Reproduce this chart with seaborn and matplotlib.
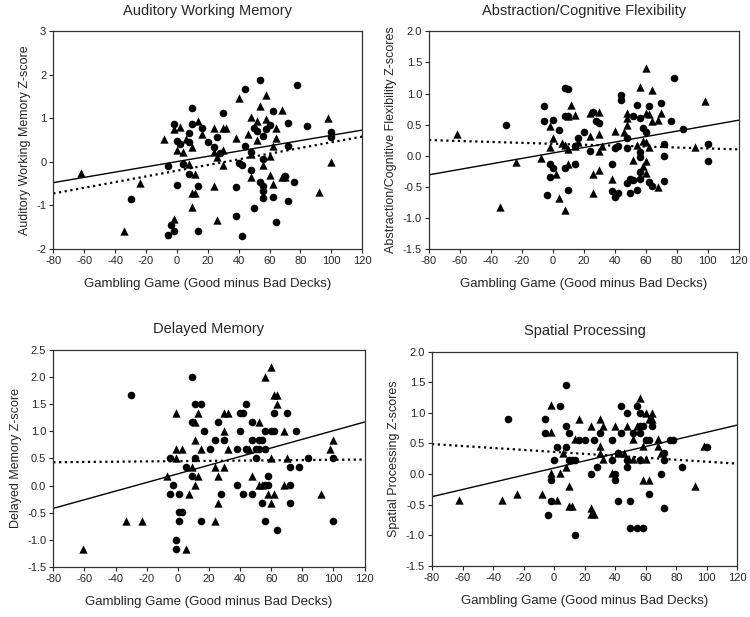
import numpy as np
import pandas as pd
import matplotlib
matplotlib.use("Agg")
import matplotlib.pyplot as plt
import seaborn as sns

# x range of the fitted lines
line_x = [-80, 120]

# Auditory Working Memory
awm_circ_x = [-30, -6, -6, -4, -2, -2, 0, 0, 2, 4, 8, 8, 8, 10, 10, 14, 14, 16, 20, 24, 26, 28, 30,
              38, 38, 40, 42, 42, 44, 44, 48, 48, 50, 50, 52, 54, 54, 56, 56, 56, 56, 56, 58, 60, 62,
              62, 64, 70, 72, 72, 72, 76, 78, 84, 100, 100]
awm_circ_y = [-0.85, -0.1, -1.68, -1.45, -1.6, 0.87, -0.53, 0.47, 0.4, -0.04, 0.67, 0.46, -0.29, 1.24,
              0.87, -0.55, -1.6, 0.78, 0.46, 0.35, 0.56, 0.2, 1.13, -0.58, -1.24, -0.03, -0.07, -1.72,
              1.68, 0.37, -0.2, 0.23, 0.78, -1.06, 0.7, 1.89, -0.47, 0.6, 0.07, -0.55, -0.68, -0.84,
              0.75, 0.84, 1.16, -0.8, -1.38, -0.33, 0.9, 0.36, -0.91, -0.46, 1.76, 0.83, 0.68, 0.57]
awm_tri_x = [-62, -34, -24, -8, -2, 2, 0, 4, 6, 8, 10, 10, 12, 12, 14, 16, 10, -2, 24, 24, 24, 26,
             26, 30, 30, 30, 32, 38, 40, 46, 48, 48, 48, 54, 52, 52, 56, 58, 58, 60, 60, 62, 62, 64,
             64, 68, 68, 70, 92, 98, 100]
awm_tri_y = [-0.25, -1.6, -0.48, 0.53, 0.76, 0.81, 0.28, 0.22, 0.53, -0.04, 0.35, -0.72, -0.72, -0.27,
             0.94, 0.63, -1.05, -1.31, 0.78, -0.55, 0.23, 0.11, -1.34, 0.78, 0.26, -0.08, 0.78, 0.55,
             1.46, 0.64, 1.04, 0.17, -0.35, 1.29, 0.95, 0.51, -0.08, 0.99, 1.54, 0.13, -0.3, 0.36,
             -0.51, 0.78, 0.55, 1.2, -0.36, -0.34, -0.7, 1.0, -0.01]
awm_solid = [-0.48, 0.73]
awm_dotted = [-0.73, 0.58]

# Abstraction/Cognitive Flexibility
acf_circ_x = [-30, -6, -6, -4, -2, -2, 0, 0, 4, 8, 10, 8, 10, 8, 10, 14, 14, 16, 20, 24, 26, 28, 30,
              38, 38, 40, 42, 40, 42, 44, 44, 48, 48, 48, 50, 50, 52, 52, 54, 54, 56, 56, 56, 56, 56,
              58, 60, 62, 62, 64, 70, 72, 72, 72, 76, 78, 84, 100, 100]
acf_circ_y = [0.49, 0.8, 0.55, -0.63, -0.14, -0.34, 0.58, -0.2, 0.41, 1.09, 1.08, 0.64, 0.63, -0.2,
              -0.55, -0.14, 0.15, 0.28, 0.38, 0.07, 0.71, 0.55, 0.53, -0.14, -0.57, -0.66, -0.6, 0.13,
              0.16, 0.98, 0.9, 0.28, 0.13, -0.44, -0.37, -0.61, 0.63, -0.39, 0.82, -0.55, 0.6, 0.05,
              -0.03, -0.27, -0.38, 0.45, 0.38, 0.8, -0.42, -0.49, 0.85, 0.19, -0.01, -0.41, 0.56, 1.25,
              0.43, 0.19, -0.09]
acf_tri_x = [-62, -34, -24, -8, -2, -2, 0, 2, 4, 6, 8, 8, 10, 10, 12, 14, 10, 14, 16, 24, 24, 26, 26,
             30, 30, 30, 30, 32, 40, 38, 46, 48, 48, 48, 52, 54, 56, 58, 58, 60, 60, 60, 60, 60, 62,
             62, 64, 64, 68, 68, 70, 92, 98]
acf_tri_y = [0.34, -0.83, -0.11, -0.04, 0.47, 0.14, 0.28, -0.29, -0.69, 0.2, -0.87, 0.17, 0.1, -0.13,
             0.81, 0.66, 0.63, 0.16, 0.22, 0.32, 0.68, -0.3, -0.6, 0.71, 0.35, 0.07, -0.24, 0.16, 0.39,
             -0.38, 0.38, 0.68, 0.61, 0.49, -0.07, 0.17, 1.1, 0.23, -0.17, 1.41, 0.69, 0.22, -0.09,
             -0.28, 0.67, 0.14, 0.55, 1.06, 0.58, -0.51, 0.69, 0.14, 0.88]
acf_solid = [-0.31, 0.57]
acf_dotted = [0.25, 0.10]

# Delayed Memory
dm_circ_x = [-30, -5, -5, -3, -1, -1, 1, 1, 1, 3, 5, 9, 9, 9, 11, 11, 15, 15, 17, 21, 24, 26, 28, 30,
             38, 38, 40, 42, 40, 42, 44, 44, 48, 48, 48, 50, 50, 52, 54, 52, 54, 56, 56, 56, 56, 58,
             58, 60, 62, 62, 64, 70, 72, 72, 72, 76, 78, 84, 100, 100]
dm_circ_y = [1.67, 0.5, -0.16, 0.01, -1.0, -1.16, -0.16, -0.66, -0.49, -0.49, 0.35, 2.0, 1.17, 0.18,
             1.5, 0.5, 1.5, -0.66, 1.01, 0.68, 0.84, 1.17, -0.16, 0.84, 0.68, 0.01, 1.34, 1.34, 1.01,
             -0.16, 1.5, 0.68, 1.17, 0.84, -0.16, 0.68, 0.5, 0.84, 0.84, 0.68, -0.32, 1.01, 0.68, 0.01,
             -0.66, 0.18, 0.01, 1.01, 1.34, 1.01, -0.82, 1.34, 0.35, 0.01, -0.32, 1.01, 0.35, 0.5, 0.5,
             -0.66]
dm_tri_x = [-61, -33, -23, -7, -1, -1, -1, 3, 5, 7, 9, 11, 11, 13, 13, 11, 15, 24, 24, 26, 26, 30,
            30, 32, 30, 32, 46, 48, 52, 52, 54, 56, 60, 58, 60, 60, 62, 64, 64, 62, 68, 68, 70, 92,
            98, 100]
dm_tri_y = [-1.16, -0.66, -0.66, 0.18, 1.34, 0.68, 0.5, 0.68, -1.16, -0.16, 0.35, 0.84, 0.01, 1.34,
            0.18, 1.17, 0.68, 0.35, -0.66, 0.18, -0.32, 1.01, 1.34, 1.34, 0.35, 0.68, 0.68, 0.18,
            1.17, 0.01, 0.01, 2.0, 2.18, -0.16, 0.5, -0.32, 1.67, 1.67, 1.5, -0.16, 1.01, 0.01, 0.5,
            -0.16, 0.68, 0.84]
dm_solid = [-0.42, 1.17]
dm_dotted = [0.43, 0.48]

# Spatial Processing
sp_circ_x = [-30, -6, -6, -4, -2, -2, 0, 2, 4, 8, 8, 8, 10, 10, 12, 14, 14, 16, 20, 24, 26, 28, 30,
             38, 38, 40, 40, 42, 42, 44, 44, 48, 48, 48, 50, 50, 52, 54, 54, 56, 56, 56, 56, 58, 58,
             60, 62, 62, 64, 70, 72, 72, 72, 76, 78, 84, 100]
sp_circ_y = [0.9, 0.9, 0.67, -0.67, -0.1, -0.44, 0.23, 0.45, 1.12, 1.45, 0.78, 0.45, 0.67, 0.23, 0.23,
             0.23, -1.0, 0.56, 0.56, 0.0, 0.56, 0.12, 0.67, 0.56, 0.23, 0.0, -0.1, -0.44, 0.34, 1.12,
             0.67, 1.0, 0.23, 0.12, -0.44, -0.89, 0.67, 1.12, -0.89, 1.0, 0.78, 0.67, 0.23, -0.89,
             0.78, 0.56, 0.56, -0.33, 0.78, 0.0, 0.34, 0.23, -0.55, 0.56, 0.56, 0.12, 0.45]
sp_tri_x = [-62, -34, -24, -8, -2, -2, -2, 2, 4, 6, 8, 10, 10, 12, 14, 16, 24, 24, 24, 26, 30, 30,
            30, 32, 32, 40, 38, 42, 46, 48, 52, 52, 54, 56, 58, 58, 60, 60, 62, 62, 64, 64, 68, 68,
            70, 92, 98]
sp_tri_y = [-0.43, -0.43, -0.32, -0.32, 1.13, 0.68, 0.01, -0.43, 0.01, 0.35, 0.12, -0.2, -0.53, -0.53,
            0.57, 0.9, 0.79, -0.55, -0.66, -0.66, 0.9, 0.46, 0.35, 0.79, 0.24, 0.79, 0.01, 0.35, 0.35,
            0.79, 0.57, 0.24, 0.79, 1.24, 0.46, -0.1, 1.0, 0.24, 0.9, -0.1, 1.0, 0.9, 0.57, 0.46, 0.35,
            -0.2, 0.46]
sp_solid = [-0.37, 0.80]
sp_dotted = [0.49, 0.17]

sns.set_style("ticks")
plt.rcParams['font.family'] = ['Liberation Sans', 'DejaVu Sans']
plt.rcParams['axes.unicode_minus'] = False

fig = plt.figure(figsize=(7.5, 6.17), dpi=100)

panels = [
    ("Auditory Working Memory", "Auditory Working Memory Z-score",
     awm_circ_x, awm_circ_y, awm_tri_x, awm_tri_y, awm_solid, awm_dotted,
     (-2, 3), np.arange(-2, 3.1, 1), "{:.0f}", [0.071, 0.597, 0.412, 0.352]),
    ("Abstraction/Cognitive Flexibility", "Abstraction/Cognitive Flexibility Z-scores",
     acf_circ_x, acf_circ_y, acf_tri_x, acf_tri_y, acf_solid, acf_dotted,
     (-1.5, 2.0), np.arange(-1.5, 2.01, 0.5), "{:.1f}", [0.572, 0.597, 0.413, 0.352]),
    ("Delayed Memory", "Delayed Memory Z-score",
     dm_circ_x, dm_circ_y, dm_tri_x, dm_tri_y, dm_solid, dm_dotted,
     (-1.5, 2.5), np.arange(-1.5, 2.51, 0.5), "{:.1f}", [0.071, 0.081, 0.415, 0.352]),
    ("Spatial Processing", "Spatial Processing Z-scores",
     sp_circ_x, sp_circ_y, sp_tri_x, sp_tri_y, sp_solid, sp_dotted,
     (-1.5, 2.0), np.arange(-1.5, 2.01, 0.5), "{:.1f}", [0.576, 0.083, 0.407, 0.347]),
]

for title, ylab, cx, cy, tx, ty, solid, dotted, ylim, yticks, fmt, pos in panels:
    ax = fig.add_axes(pos)
    sns.lineplot(x=line_x, y=solid, ax=ax, color='black', lw=1.0)
    sns.lineplot(x=line_x, y=dotted, ax=ax, color='black', lw=1.6, linestyle=(0, (1, 1.6)))
    sns.scatterplot(x=cx, y=cy, ax=ax, marker='o', s=30, color='black', edgecolor='black', linewidth=0)
    sns.scatterplot(x=tx, y=ty, ax=ax, marker='^', s=36, color='black', edgecolor='black', linewidth=0)
    ax.set_xlim(-80, 120)
    ax.set_ylim(*ylim)
    ax.set_xticks(np.arange(-80, 121, 20))
    ax.set_yticks(yticks)
    ax.set_yticklabels([fmt.format(v) for v in yticks])
    ax.tick_params(labelsize=8, length=3, width=0.8, direction='out', pad=2)
    for sp in ax.spines.values():
        sp.set_visible(True)
        sp.set_linewidth(0.9)
        sp.set_color('#333333')
    ax.set_title(title, fontsize=10.5, pad=12)
    ax.set_xlabel("Gambling Game (Good minus Bad Decks)", fontsize=9.5, labelpad=9)
    ax.set_ylabel(ylab, fontsize=9, labelpad=4)

fig.savefig("out.png", dpi=100)
